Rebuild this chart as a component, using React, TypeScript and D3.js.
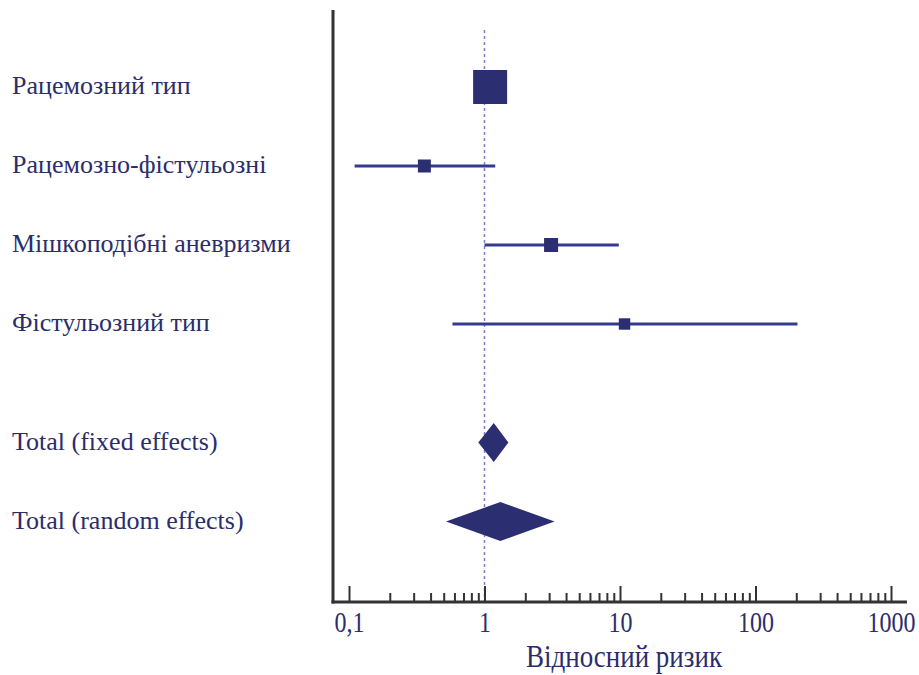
import { useEffect, useRef } from 'react';
import * as d3 from 'd3';

const studyLabels = [
  'Рацемозний тип',
  'Рацемозно-фістульозні',
  'Мішкоподібні аневризми',
  'Фістульозний тип'
];
const studyRR = [1.1, 0.36, 3.1, 10.8];
const studyLow = [0.95, 0.11, 1.0, 0.58];
const studyHigh = [1.25, 1.2, 9.8, 204];
const studyWeights = [70.0, 10.2, 11.9, 7.9];

const totalLabels = ['Total (fixed effects)', 'Total (random effects)'];
const totalRR = [1.17, 1.31];
const totalLow = [0.9, 0.52];
const totalHigh = [1.5, 3.29];

const majorTicks = [0.1, 1, 10, 100, 1000];
const majorTickLabels = ['0,1', '1', '10', '100', '1000'];
const axisTitle = 'Відносний ризик';

const WIDTH = 919;
const HEIGHT = 675;
const TEXT_COLOR = '#2b2d6b';
const MARK_COLOR = '#2b2e70';
const LINE_COLOR = '#343a92';
const AXIS_COLOR = '#333333';
const FONT = '"Liberation Serif", "Times New Roman", serif';

export default function App() {
  const ref = useRef<SVGSVGElement>(null);

  useEffect(() => {
    const svg = d3.select(ref.current);
    svg.selectAll('*').remove();

    const axisY = 602;
    const axisLeft = 333;
    const axisRight = 907;

    const xScale = d3.scaleLog().domain([0.1, 1000]).range([349, 891]);
    // rows 0..3 are studies, totals sit after a half-row gap
    const yScale = d3.scaleLinear().domain([0, 5.5]).range([87, 521.5]);
    const sizeScale = d3.scaleSqrt().domain([0, d3.max(studyWeights)!]).range([0, 34]);

    // reference line at RR = 1
    svg
      .append('line')
      .attr('x1', xScale(1))
      .attr('x2', xScale(1))
      .attr('y1', 30)
      .attr('y2', axisY)
      .attr('stroke', '#7b80cc')
      .attr('stroke-width', 1.5)
      .attr('stroke-dasharray', '3,3');

    // axes
    svg
      .append('line')
      .attr('x1', axisLeft)
      .attr('x2', axisLeft)
      .attr('y1', 10)
      .attr('y2', axisY + 1.5)
      .attr('stroke', AXIS_COLOR)
      .attr('stroke-width', 3);

    const minorTicks: number[] = [];
    majorTicks.slice(0, -1).forEach((base) => {
      for (let k = 2; k <= 9; k++) minorTicks.push(base * k);
    });

    svg
      .append('g')
      .attr('transform', `translate(0,${axisY})`)
      .call(d3.axisBottom(xScale).tickValues(minorTicks).tickSize(-9).tickFormat(() => ''))
      .call((g) => {
        g.select('.domain').remove();
        g.selectAll('.tick line').attr('stroke', AXIS_COLOR).attr('stroke-width', 2);
      });

    svg
      .append('g')
      .attr('transform', `translate(0,${axisY})`)
      .call(
        d3
          .axisBottom(xScale)
          .tickValues(majorTicks)
          .tickSize(-16)
          .tickFormat((_, i) => majorTickLabels[i])
      )
      .call((g) => {
        g.select('.domain').remove();
        g.selectAll('.tick line').attr('stroke', AXIS_COLOR).attr('stroke-width', 2);
        g.selectAll('.tick text')
          .attr('y', 0)
          .attr('dy', 0)
          .attr('transform', 'translate(0,30) scale(1,1.2)')
          .attr('fill', TEXT_COLOR)
          .attr('font-family', FONT)
          .attr('font-size', 24);
      });

    svg
      .append('line')
      .attr('x1', axisLeft - 1.5)
      .attr('x2', axisRight)
      .attr('y1', axisY)
      .attr('y2', axisY)
      .attr('stroke', AXIS_COLOR)
      .attr('stroke-width', 3);

    svg
      .append('text')
      .attr('transform', `translate(624,667) scale(1,1.2)`)
      .attr('text-anchor', 'middle')
      .attr('fill', TEXT_COLOR)
      .attr('font-family', FONT)
      .attr('font-size', 27)
      .text(axisTitle);

    // row labels
    const labels = [...studyLabels, ...totalLabels];
    svg
      .append('g')
      .selectAll('text')
      .data(labels)
      .enter()
      .append('text')
      .attr('x', 12)
      .attr('y', (_, i) => yScale(i < 4 ? i : i + 0.5) + 7)
      .attr('fill', TEXT_COLOR)
      .attr('font-family', FONT)
      .attr('font-size', 26)
      .text((d) => d);

    // study CIs and squares
    const studies = studyLabels.map((label, i) => ({
      label,
      rr: studyRR[i],
      low: studyLow[i],
      high: studyHigh[i],
      weight: studyWeights[i],
      y: yScale(i)
    }));

    svg
      .append('g')
      .selectAll('line')
      .data(studies)
      .enter()
      .append('line')
      .attr('x1', (d) => xScale(d.low))
      .attr('x2', (d) => xScale(d.high))
      .attr('y1', (d) => d.y)
      .attr('y2', (d) => d.y)
      .attr('stroke', LINE_COLOR)
      .attr('stroke-width', 3);

    svg
      .append('g')
      .selectAll('rect')
      .data(studies)
      .enter()
      .append('rect')
      .attr('x', (d) => xScale(d.rr) - sizeScale(d.weight) / 2)
      .attr('y', (d) => d.y - sizeScale(d.weight) / 2)
      .attr('width', (d) => sizeScale(d.weight))
      .attr('height', (d) => sizeScale(d.weight))
      .attr('fill', MARK_COLOR);

    // pooled diamonds
    const totals = totalLabels.map((label, i) => ({
      label,
      rr: totalRR[i],
      low: totalLow[i],
      high: totalHigh[i],
      y: yScale(i + 4.5)
    }));
    const half = 19.5;

    svg
      .append('g')
      .selectAll('path')
      .data(totals)
      .enter()
      .append('path')
      .attr('d', (d) => {
        const p = d3.path();
        p.moveTo(xScale(d.low), d.y);
        p.lineTo(xScale(d.rr), d.y - half);
        p.lineTo(xScale(d.high), d.y);
        p.lineTo(xScale(d.rr), d.y + half);
        p.closePath();
        return p.toString();
      })
      .attr('fill', MARK_COLOR);
  }, []);

  return (
    <svg
      ref={ref}
      width={WIDTH}
      height={HEIGHT}
      style={{ position: 'absolute', left: 0, top: 0, background: '#fff' }}
    />
  );
}
